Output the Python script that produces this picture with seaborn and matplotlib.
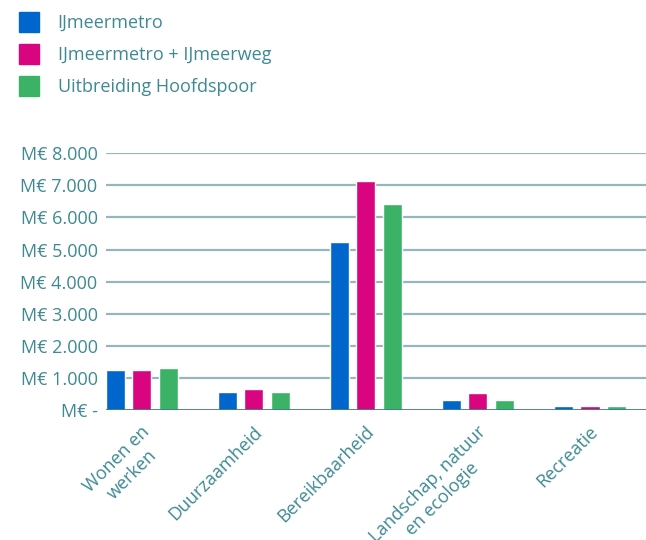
import matplotlib
matplotlib.use("Agg")
import matplotlib.pyplot as plt
import matplotlib.transforms as mtransforms
from matplotlib.lines import Line2D
import seaborn as sns
import pandas as pd

# --- Data ---
categories = ["Wonen en\nwerken", "Duurzaamheid", "Bereikbaarheid",
              "Landschap, natuur\nen ecologie", "Recreatie"]
series = ["IJmeermetro", "IJmeermetro + IJmeerweg", "Uitbreiding Hoofdspoor"]
ijmeermetro = [1250, 560, 5230, 310, 130]
ijmeermetro_weg = [1250, 650, 7130, 530, 130]
hoofdspoor = [1310, 560, 6420, 310, 130]
yticks = [0, 1000, 2000, 3000, 4000, 5000, 6000, 7000, 8000]
ytick_labels = ["M€ -", "M€ 1.000", "M€ 2.000", "M€ 3.000", "M€ 4.000",
                "M€ 5.000", "M€ 6.000", "M€ 7.000", "M€ 8.000"]

colors = ["#0066cc", "#d9047f", "#3cb267"]
TEXT = "#3d8a93"
GRID = "#93b7bb"
AXIS = "#3e7c86"

df = pd.DataFrame({
    "cat": categories * 3,
    "serie": [s for s in series for _ in categories],
    "value": ijmeermetro + ijmeermetro_weg + hoofdspoor,
})

sns.set_style("white")
plt.rcParams["font.family"] = ["Open Sans", "DejaVu Sans"]

fig = plt.figure(figsize=(6.46, 5.40), dpi=100)
ax = fig.add_axes([0.164, 0.2407, 0.836, 0.4754])

sns.barplot(data=df, x="cat", y="value", hue="serie", palette=colors,
            saturation=1, width=0.71, gap=0.28, ax=ax, legend=False, zorder=2)

ax.set_ylim(0, 8000)
ax.set_xlim(-0.32, 4.5)
ax.set_yticks(yticks)
ax.set_yticklabels(ytick_labels)
for y in yticks[1:]:
    ax.axhline(y, color=GRID, lw=1.6, zorder=1)
ax.axhline(0, color=AXIS, lw=2.0, zorder=3)

for s in ax.spines.values():
    s.set_visible(False)
ax.tick_params(axis="both", length=0, colors=TEXT, labelsize=13)
ax.tick_params(axis="y", pad=6)
ax.set_xlabel("")
ax.set_ylabel("")

ax.set_xticks(range(len(categories)))
ax.set_xticklabels(categories, rotation=45, ha="right", va="top",
                   rotation_mode="anchor", multialignment="center",
                   linespacing=1.2)
offset = mtransforms.ScaledTranslation(-1 / 100, -8 / 100, fig.dpi_scale_trans)
for lbl in ax.get_xticklabels():
    lbl.set_transform(lbl.get_transform() + offset)

# legend met vierkante blokjes
handles = [Line2D([], [], marker="s", ls="", color=c, markersize=13.7)
           for c in colors]
fig.legend(handles, series, loc="upper left",
           bbox_to_anchor=(20 / 646, 1 - 14 / 540),
           frameon=False, fontsize=13, labelcolor=TEXT,
           borderpad=0, borderaxespad=0,
           handlelength=1.05, handletextpad=1.03,
           labelspacing=0.78)

fig.savefig("out.png", dpi=100)
